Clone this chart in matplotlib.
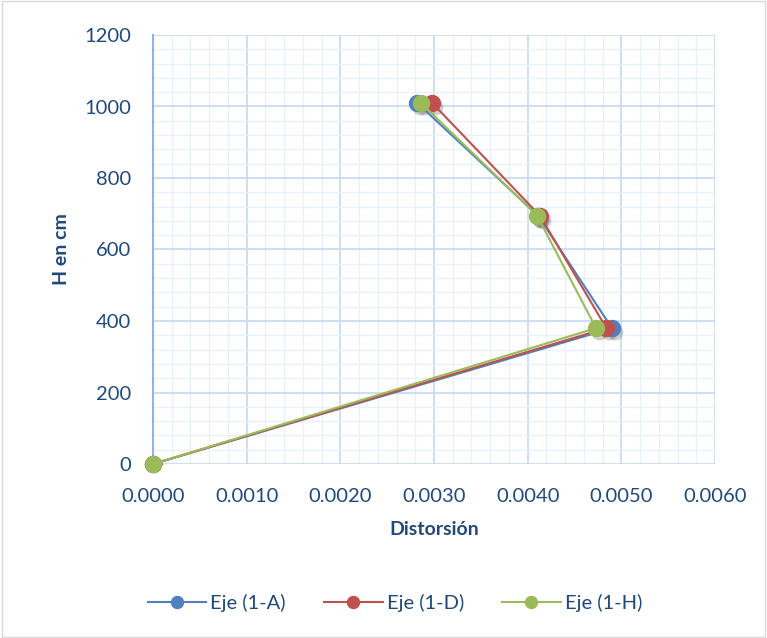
import matplotlib.pyplot as plt
from matplotlib.ticker import MultipleLocator, FormatStrFormatter

# data
heights = [0, 380, 695, 1010]
drift_a = [0.0, 0.00490, 0.00411, 0.00282]
drift_d = [0.0, 0.00484, 0.00413, 0.00298]
drift_h = [0.0, 0.00473, 0.00410, 0.00286]
series_names = ["Eje (1-A)", "Eje (1-D)", "Eje (1-H)"]
colors = ["#4F81BD", "#C0504D", "#9BBB59"]

text_col = "#1F497D"
plt.rcParams["font.family"] = ["Lato", "DejaVu Sans"]

fig = plt.figure(figsize=(7.67, 6.38), dpi=100)
ax = fig.add_axes([153 / 767, 1 - 464 / 638, (715 - 153) / 767, (464 - 35) / 638])

for xs, name, c in zip([drift_a, drift_d, drift_h], series_names, colors):
    # faint shadow under the markers
    ax.plot([x + 0.00003 for x in xs], [h - 12 for h in heights], ls="none",
            marker="o", ms=11.5, mfc="#000000", mec="none", alpha=0.18, zorder=2)
    ax.plot(xs, heights, color=c, lw=1.5, marker="o", ms=11.5,
            mfc=c, mec=c, label=name, zorder=3, clip_on=False)

ax.set_xlim(0, 0.006)
ax.set_ylim(0, 1200)
ax.xaxis.set_major_locator(MultipleLocator(0.001))
ax.xaxis.set_minor_locator(MultipleLocator(0.0002))
ax.yaxis.set_major_locator(MultipleLocator(200))
ax.yaxis.set_minor_locator(MultipleLocator(40))
ax.xaxis.set_major_formatter(FormatStrFormatter("%.4f"))

ax.grid(which="major", color="#C6D9F1", lw=1.2)
ax.grid(which="minor", color="#E9F0FA", lw=1.0)
ax.set_axisbelow(True)

for s in ["top", "right", "bottom"]:
    ax.spines[s].set_visible(False)
ax.spines["left"].set_color("#8EB4E3")
ax.spines["left"].set_linewidth(1.5)

ax.tick_params(which="both", length=0, colors=text_col, labelsize=14.5)
ax.tick_params(axis="x", pad=17)
ax.tick_params(axis="y", pad=16)

ax.set_xlabel("Distorsión", fontsize=14, fontweight="bold", color=text_col, labelpad=12)
ax.set_ylabel("H en cm", fontsize=14, fontweight="bold", color=text_col, labelpad=10)

leg = fig.legend(loc="center", bbox_to_anchor=(0.515, 1 - 603 / 638), ncol=3,
                 frameon=False, fontsize=14.5, handlelength=2.9, columnspacing=1.9,
                 handletextpad=0.2, markerscale=0.75)
for t in leg.get_texts():
    t.set_color(text_col)

# outer chart border
fig.patches.append(plt.Rectangle((0.002, 0.002), 0.996, 0.996, transform=fig.transFigure,
                                 fill=False, ec="#D9D9D9", lw=1))

fig.savefig("out.png", dpi=100)
